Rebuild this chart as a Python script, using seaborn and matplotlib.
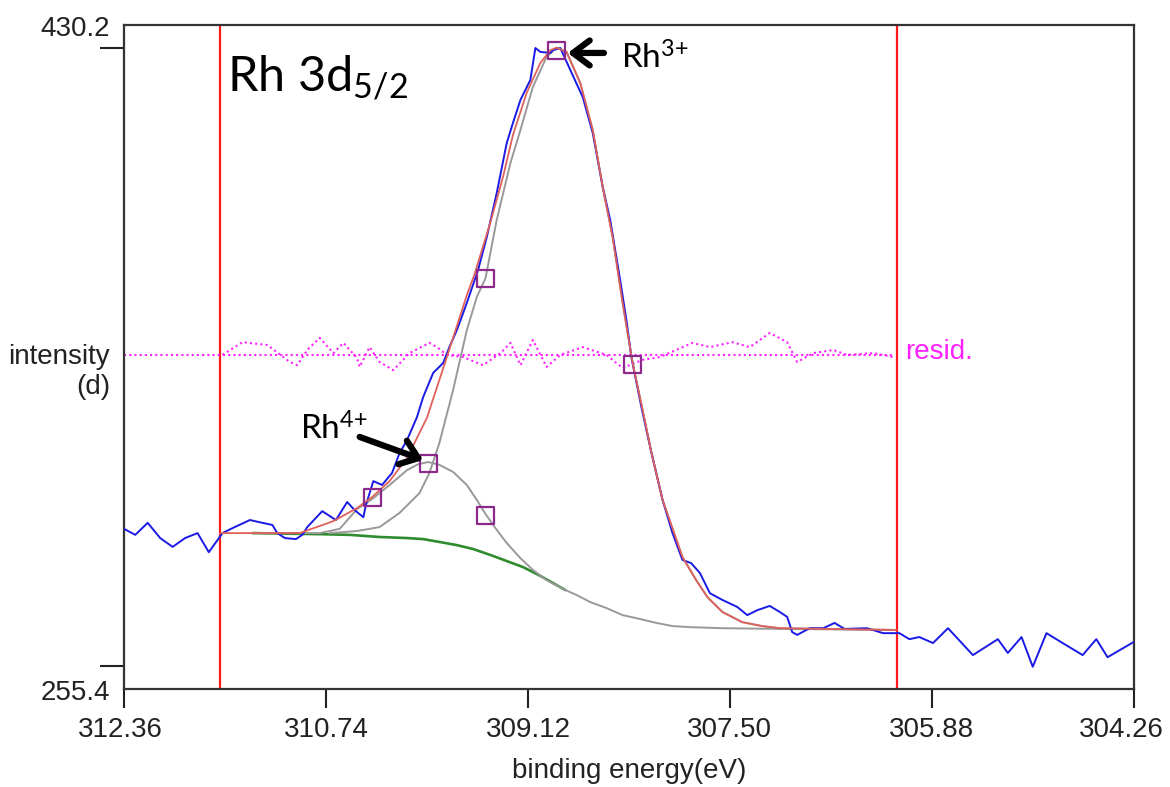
import matplotlib
matplotlib.use('Agg')
import matplotlib.pyplot as plt
import matplotlib.transforms as mtransforms
import seaborn as sns

# ------------------------------------------------------------
# Values
# ------------------------------------------------------------
x_ticks = [312.36, 310.74, 309.12, 307.50, 305.88, 304.26]
y_ticks = [255.4, 430.2]
x_range = (312.36, 304.26)
y_range = (248.9, 436.7)
fit_window = [311.59, 306.16]     # red region limits
resid_zero = 343.4                # level of the residual trace

# measured spectrum (blue)
data_be = [312.36, 312.27, 312.17, 312.07, 311.97, 311.87, 311.77, 311.68, 311.57, 311.49,
           311.35, 311.25, 311.17, 311.13, 311.07, 310.98, 310.93, 310.89, 310.77, 310.66,
           310.57, 310.51, 310.44, 310.42, 310.36, 310.29, 310.21, 310.15, 310.09, 310.01,
           309.96, 309.88, 309.80, 309.75, 309.69, 309.61, 309.52, 309.45, 309.37, 309.29,
           309.24, 309.18, 309.10, 309.06, 309.02, 308.94, 308.92, 308.86, 308.78, 308.68,
           308.60, 308.52, 308.46, 308.38, 308.33, 308.29, 308.21, 308.13, 308.04, 307.96,
           307.88, 307.81, 307.74, 307.66, 307.56, 307.44, 307.36, 307.28, 307.18, 307.10,
           307.04, 307.00, 306.96, 306.86, 306.75, 306.66, 306.58, 306.40, 306.27, 306.14,
           306.06, 305.98, 305.87, 305.75, 305.55, 305.35, 305.27, 305.16, 305.07, 304.96,
           304.83, 304.67, 304.56, 304.47, 304.26]
data_int = [294.2, 292.5, 295.9, 291.6, 289.1, 291.6, 293.0, 287.6, 293.0, 294.4,
            296.7, 295.9, 295.3, 293.0, 291.6, 291.3, 292.5, 294.7, 299.2, 296.7,
            301.8, 299.5, 297.5, 300.9, 307.7, 306.6, 310.0, 315.6, 319.3, 325.8,
            331.5, 338.3, 341.1, 345.6, 350.4, 358.1, 367.4, 376.7, 389.2, 403.3,
            409.0, 415.5, 421.2, 430.2, 429.1, 428.8, 429.6, 430.2, 424.0, 416.3,
            406.2, 390.9, 381.6, 364.6, 353.3, 342.8, 328.7, 315.9, 302.4, 293.0,
            285.4, 284.5, 281.7, 276.0, 274.1, 272.1, 269.8, 271.2, 272.4, 270.7,
            269.3, 265.0, 264.2, 266.1, 266.1, 267.6, 265.9, 266.1, 264.7, 264.7,
            263.0, 263.6, 261.9, 266.1, 258.5, 263.0, 259.1, 263.6, 255.2, 264.7,
            261.9, 258.5, 263.0, 257.9, 262.2]

# fit envelope (red)
fit_be = [311.59, 310.95, 310.68, 310.49, 310.37, 310.23, 310.09, 309.93, 309.77, 309.61,
          309.55, 309.42, 309.32, 309.24, 309.13, 309.02, 308.94, 308.89, 308.81, 308.70,
          308.60, 308.52, 308.44, 308.36, 308.28, 308.20, 308.13, 308.04, 307.88, 307.77,
          307.68, 307.56, 307.40, 307.24, 307.10, 306.17]
fit_int = [293.0, 293.0, 296.4, 300.1, 303.2, 307.7, 314.2, 325.6, 342.8, 360.3,
           366.0, 381.0, 393.7, 405.6, 417.5, 426.0, 429.6, 430.3, 429.1, 420.3,
           407.0, 390.9, 376.7, 358.1, 341.1, 327.8, 315.9, 302.4, 286.2, 279.7,
           274.9, 270.7, 267.8, 266.7, 266.1, 265.6]

# Rh3+ component (gray), rising edge; the falling edge lies on the envelope
rh3_be_left = [310.71, 310.49, 310.31, 310.15, 309.99, 309.91, 309.83, 309.72, 309.61, 309.53,
               309.46, 309.37, 309.26, 309.18, 309.08, 308.97]
rh3_int_left = [293.0, 293.6, 294.7, 298.7, 304.3, 310.0, 318.5, 333.5, 350.4, 359.8,
                365.1, 381.6, 397.7, 407.0, 419.2, 427.7]

# Rh4+ component (gray)
rh4_be = [311.33, 310.79, 310.63, 310.49, 310.37, 310.23, 310.09, 310.00, 309.92, 309.83,
          309.72, 309.61, 309.53, 309.46, 309.38, 309.29, 309.18, 309.08, 308.97, 308.82,
          308.73, 308.62, 308.49, 308.36, 308.22, 308.09, 307.96, 307.82, 307.56, 307.10,
          306.17]
rh4_int = [293.0, 293.0, 294.2, 299.8, 302.6, 306.6, 310.8, 312.5, 313.1, 312.3,
           310.3, 306.6, 302.4, 298.4, 294.4, 290.2, 285.9, 282.6, 279.7, 276.9,
           275.5, 273.5, 271.8, 269.8, 268.7, 267.6, 266.7, 266.4, 266.1, 265.9,
           265.6]

# Shirley background (green)
bg_be = [311.33, 310.79, 310.55, 310.31, 310.09, 309.96, 309.83, 309.69, 309.56, 309.42,
         309.29, 309.16, 309.02, 308.89, 308.82]
bg_int = [293.0, 292.7, 292.5, 291.9, 291.6, 291.3, 290.5, 289.6, 288.5, 286.8,
          285.1, 283.4, 280.9, 278.3, 276.9]

# peak / half-width handles (purple squares)
mark_be = [308.89, 309.46, 308.28, 309.92, 310.37, 309.46]
mark_int = [429.6, 365.1, 340.8, 312.8, 303.2, 298.1]

# residual trace (magenta)
res_be = [311.57, 311.41, 311.21, 311.03, 310.97, 310.89, 310.79, 310.68, 310.60, 310.49,
          310.47, 310.39, 310.31, 310.20, 310.07, 309.91, 309.85, 309.77, 309.64, 309.48,
          309.34, 309.26, 309.18, 309.08, 308.97, 308.86, 308.68, 308.49, 308.36, 308.20,
          308.06, 307.80, 307.66, 307.48, 307.34, 307.18, 307.04, 306.96, 306.83, 306.67,
          306.56, 306.35, 306.19]
res_int = [343.4, 347.0, 346.2, 341.4, 340.5, 344.8, 348.2, 343.9, 346.8, 342.5,
           340.0, 345.6, 341.4, 339.1, 343.9, 346.8, 345.6, 343.4, 342.8, 340.5,
           343.9, 346.8, 340.5, 347.6, 340.0, 343.4, 345.6, 343.4, 339.7, 342.0,
           342.8, 346.8, 345.6, 347.0, 345.6, 349.6, 347.0, 341.4, 343.9, 344.8,
           343.4, 343.9, 342.8]

# annotation anchors (tip, tail, label)
rh3_tip, rh3_tail, rh3_label = (308.80, 428.8), (308.51, 428.8), (308.37, 424.3)
rh4_tip, rh4_tail, rh4_label = (309.96, 313.7), (310.47, 320.2), (310.95, 319.3)
title_pos = (311.53, 417.8)
resid_label = (306.09, 344.2)

# ------------------------------------------------------------
# Style
# ------------------------------------------------------------
sns.set_theme(style='white')
plt.rcParams['font.family'] = ['Liberation Sans', 'DejaVu Sans']
plt.rcParams['mathtext.fontset'] = 'custom'
plt.rcParams['mathtext.rm'] = 'Lato'
plt.rcParams['mathtext.it'] = 'Lato:italic'
plt.rcParams['mathtext.bf'] = 'Lato:bold'

fig = plt.figure(figsize=(11.7, 7.87), dpi=100)
ax = fig.add_axes([0.106, 0.1245, 0.863, 0.8437])

# ------------------------------------------------------------
# Curves
# ------------------------------------------------------------
for xv in fit_window:
    ax.axvline(xv, color='#FF1A1A', lw=1.6, zorder=2)

ax.hlines(resid_zero, x_range[0], res_be[-1], colors='#FF20FF', lw=1.5,
          linestyles=(0, (1, 1.5)), zorder=2)
sns.lineplot(x=res_be, y=res_int, sort=False, estimator=None, ax=ax,
             color='#FF20FF', lw=1.5, linestyle=(0, (1, 1.5)), zorder=2)

sns.lineplot(x=bg_be, y=bg_int, sort=False, estimator=None, ax=ax,
             color='#2E8B2E', lw=1.9, zorder=3)
sns.lineplot(x=rh4_be, y=rh4_int, sort=False, estimator=None, ax=ax,
             color='#999999', lw=1.4, zorder=4)
rh3_be = rh3_be_left + fit_be[17:]
rh3_int = rh3_int_left + fit_int[17:]
sns.lineplot(x=rh3_be, y=rh3_int, sort=False, estimator=None, ax=ax,
             color='#999999', lw=1.4, zorder=4)

sns.lineplot(x=data_be, y=data_int, sort=False, estimator=None, ax=ax,
             color='#1A1AE6', lw=1.4, zorder=5)
sns.lineplot(x=fit_be, y=fit_int, sort=False, estimator=None, ax=ax,
             color='#E0605A', lw=1.3, zorder=6)

sns.scatterplot(x=mark_be, y=mark_int, ax=ax, marker='s', s=150,
                facecolor='none', edgecolor='#8B2A8B', linewidth=1.6, zorder=7)

# ------------------------------------------------------------
# Annotations
# ------------------------------------------------------------
ax.text(*title_pos, r'Rh 3d$_{\mathrm{5/2}}$', family='Lato', fontsize=35,
        ha='left', va='baseline', color='black')
ax.text(*rh3_label, r'Rh$^{3{+}}$', family='Lato', fontsize=24,
        ha='left', va='baseline', color='black')
ax.text(*rh4_label, r'Rh$^{4{+}}$', family='Lato', fontsize=24,
        ha='left', va='baseline', color='black')
arrow = dict(arrowstyle='->,head_length=0.6,head_width=0.45', lw=4.5,
             color='black', shrinkA=0, shrinkB=0, mutation_scale=20)
ax.annotate('', xy=rh3_tip, xytext=rh3_tail, arrowprops=arrow, zorder=8)
ax.annotate('', xy=rh4_tip, xytext=rh4_tail, arrowprops=arrow, zorder=8)

ax.text(*resid_label, 'resid.', color='#FF20FF', fontsize=20,
        ha='left', va='center')

# ------------------------------------------------------------
# Axes
# ------------------------------------------------------------
ax.set_xlim(*x_range)
ax.set_ylim(*y_range)
ax.set_xticks(x_ticks)
ax.set_xticklabels([f'{v:.2f}' for v in x_ticks])
ax.set_yticks(y_ticks)
ax.set_yticklabels([f'{v:.1f}' for v in y_ticks])
ax.tick_params(axis='x', direction='out', length=14, width=1.5, pad=6,
               labelsize=20, colors='#222222', bottom=True)
ax.tick_params(axis='y', direction='out', length=17, width=1.5, pad=-7,
               labelsize=20, colors='#222222', left=True)
for lab, dy in zip(ax.get_yticklabels(), [-24, 22]):
    lab.set_transform(lab.get_transform() +
                      mtransforms.ScaledTranslation(0, dy / 100, fig.dpi_scale_trans))
# keep the end labels inside the picture, as in the original export
xlabs = ax.get_xticklabels()
for lab, dx in zip([xlabs[0], xlabs[-1]], [-4, -12]):
    lab.set_transform(lab.get_transform() +
                      mtransforms.ScaledTranslation(dx / 100, 0, fig.dpi_scale_trans))

for sp in ax.spines.values():
    sp.set_color('#333333')
    sp.set_linewidth(1.6)

ax.set_xlabel('binding energy(eV)', fontsize=20, labelpad=11, color='#222222')
ax.set_ylabel('')
fig.text(110 / 1170, 1 - 372 / 787, 'intensity\n(d)', fontsize=20, ha='right',
         va='center', multialignment='right', color='#222222')

fig.savefig('out.png', dpi=100)
